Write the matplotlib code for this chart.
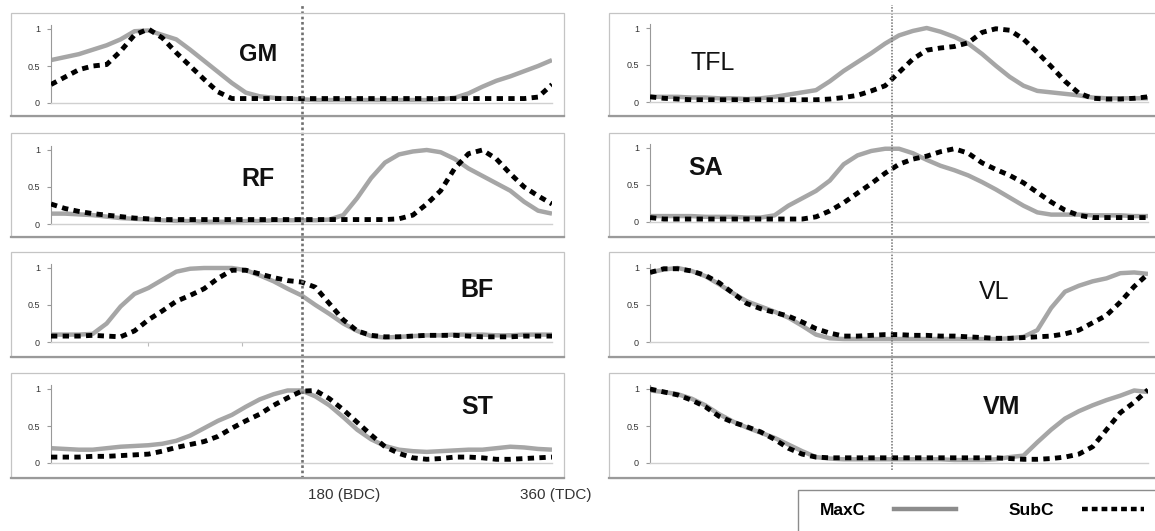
import numpy as np
import matplotlib.pyplot as plt
from matplotlib.patches import Rectangle
from matplotlib.lines import Line2D

plt.rcParams['font.family'] = ['Liberation Sans', 'DejaVu Sans']

W, H = 1155, 531

# crank angle, degrees
angle = np.arange(0, 361, 10)

gm_max = [0.58, 0.62, 0.66, 0.72, 0.78, 0.86, 0.97, 0.98, 0.92, 0.86, 0.72, 0.57, 0.42,
          0.27, 0.14, 0.09, 0.07, 0.06, 0.05, 0.04, 0.04, 0.04, 0.04, 0.04, 0.04, 0.04,
          0.04, 0.04, 0.05, 0.07, 0.13, 0.22, 0.30, 0.36, 0.43, 0.50, 0.58]
gm_sub = [0.25, 0.35, 0.45, 0.50, 0.52, 0.70, 0.92, 1.00, 0.88, 0.68, 0.50, 0.32, 0.15,
          0.06, 0.06, 0.06, 0.06, 0.06, 0.06, 0.06, 0.06, 0.06, 0.06, 0.06, 0.06, 0.06,
          0.06, 0.06, 0.06, 0.06, 0.06, 0.06, 0.06, 0.06, 0.06, 0.08, 0.25]

rf_max = [0.14, 0.14, 0.13, 0.12, 0.10, 0.08, 0.07, 0.06, 0.05, 0.04, 0.04, 0.03, 0.03,
          0.03, 0.04, 0.04, 0.05, 0.05, 0.05, 0.05, 0.06, 0.12, 0.35, 0.62, 0.83, 0.94,
          0.98, 1.00, 0.97, 0.88, 0.75, 0.65, 0.55, 0.45, 0.30, 0.18, 0.14]
rf_sub = [0.27, 0.21, 0.17, 0.14, 0.12, 0.10, 0.08, 0.07, 0.06, 0.06, 0.06, 0.06, 0.06,
          0.06, 0.06, 0.06, 0.06, 0.06, 0.06, 0.06, 0.06, 0.06, 0.06, 0.06, 0.06, 0.07,
          0.12, 0.27, 0.45, 0.75, 0.95, 1.00, 0.88, 0.68, 0.50, 0.38, 0.27]

bf_max = [0.10, 0.10, 0.10, 0.11, 0.25, 0.48, 0.65, 0.73, 0.84, 0.95, 0.99, 1.00, 1.00,
          1.00, 0.97, 0.90, 0.82, 0.72, 0.63, 0.50, 0.38, 0.25, 0.15, 0.08, 0.06, 0.07,
          0.08, 0.09, 0.09, 0.10, 0.10, 0.10, 0.09, 0.09, 0.10, 0.10, 0.10]
bf_sub = [0.08, 0.08, 0.08, 0.09, 0.08, 0.07, 0.15, 0.30, 0.42, 0.55, 0.63, 0.72, 0.86,
          0.97, 0.97, 0.92, 0.87, 0.83, 0.81, 0.74, 0.52, 0.30, 0.15, 0.09, 0.07, 0.07,
          0.08, 0.09, 0.09, 0.09, 0.08, 0.07, 0.07, 0.07, 0.08, 0.08, 0.08]

st_max = [0.20, 0.19, 0.18, 0.18, 0.20, 0.22, 0.23, 0.24, 0.26, 0.30, 0.37, 0.47, 0.57,
          0.65, 0.76, 0.86, 0.93, 0.98, 0.98, 0.90, 0.78, 0.62, 0.45, 0.32, 0.23, 0.18,
          0.16, 0.15, 0.16, 0.17, 0.18, 0.18, 0.20, 0.22, 0.21, 0.19, 0.18]
st_sub = [0.08, 0.08, 0.08, 0.09, 0.09, 0.10, 0.11, 0.12, 0.16, 0.21, 0.25, 0.29, 0.36,
          0.47, 0.57, 0.66, 0.78, 0.88, 0.97, 0.98, 0.87, 0.72, 0.55, 0.38, 0.22, 0.13,
          0.07, 0.05, 0.06, 0.08, 0.08, 0.07, 0.05, 0.05, 0.06, 0.07, 0.08]

tfl_max = [0.07, 0.07, 0.07, 0.06, 0.06, 0.05, 0.05, 0.04, 0.05, 0.07, 0.10, 0.13, 0.16,
           0.28, 0.42, 0.54, 0.66, 0.79, 0.90, 0.96, 1.00, 0.95, 0.88, 0.79, 0.65, 0.49,
           0.34, 0.22, 0.15, 0.13, 0.11, 0.09, 0.06, 0.05, 0.05, 0.05, 0.05]
tfl_sub = [0.07, 0.05, 0.04, 0.03, 0.03, 0.03, 0.03, 0.03, 0.03, 0.03, 0.03, 0.03, 0.03,
           0.04, 0.06, 0.09, 0.15, 0.22, 0.40, 0.58, 0.70, 0.73, 0.75, 0.80, 0.94, 0.99,
           0.97, 0.85, 0.67, 0.48, 0.28, 0.12, 0.05, 0.04, 0.04, 0.05, 0.07]

sa_max = [0.08, 0.08, 0.08, 0.08, 0.07, 0.07, 0.07, 0.06, 0.06, 0.09, 0.22, 0.32, 0.42,
          0.56, 0.78, 0.90, 0.96, 0.99, 0.99, 0.93, 0.84, 0.76, 0.70, 0.63, 0.54, 0.44,
          0.33, 0.22, 0.13, 0.10, 0.10, 0.10, 0.09, 0.09, 0.09, 0.08, 0.08]
sa_sub = [0.06, 0.04, 0.04, 0.04, 0.04, 0.04, 0.04, 0.04, 0.04, 0.04, 0.04, 0.04, 0.07,
          0.15, 0.26, 0.39, 0.52, 0.66, 0.78, 0.85, 0.89, 0.95, 0.99, 0.93, 0.80, 0.71,
          0.63, 0.53, 0.40, 0.27, 0.16, 0.09, 0.06, 0.06, 0.06, 0.06, 0.06]

vl_max = [0.94, 0.98, 1.00, 0.96, 0.89, 0.78, 0.66, 0.55, 0.48, 0.41, 0.33, 0.22, 0.10,
          0.05, 0.04, 0.04, 0.04, 0.04, 0.04, 0.04, 0.04, 0.04, 0.04, 0.04, 0.04, 0.04,
          0.05, 0.07, 0.16, 0.46, 0.68, 0.76, 0.82, 0.86, 0.93, 0.94, 0.92]
vl_sub = [0.94, 0.99, 0.99, 0.96, 0.90, 0.80, 0.66, 0.52, 0.45, 0.40, 0.35, 0.27, 0.18,
          0.12, 0.08, 0.08, 0.09, 0.10, 0.10, 0.09, 0.09, 0.08, 0.08, 0.07, 0.06, 0.05,
          0.05, 0.06, 0.07, 0.08, 0.11, 0.16, 0.26, 0.36, 0.54, 0.75, 0.92]

vm_max = [0.98, 0.96, 0.93, 0.87, 0.78, 0.66, 0.56, 0.48, 0.41, 0.34, 0.25, 0.16, 0.08,
          0.06, 0.05, 0.05, 0.05, 0.05, 0.05, 0.05, 0.05, 0.05, 0.04, 0.04, 0.04, 0.05,
          0.08, 0.10, 0.28, 0.45, 0.60, 0.70, 0.78, 0.85, 0.91, 0.98, 0.96]
vm_sub = [1.00, 0.96, 0.92, 0.85, 0.76, 0.63, 0.55, 0.49, 0.42, 0.32, 0.20, 0.12, 0.08,
          0.07, 0.07, 0.07, 0.07, 0.07, 0.07, 0.07, 0.07, 0.07, 0.07, 0.07, 0.07, 0.07,
          0.06, 0.05, 0.05, 0.06, 0.08, 0.12, 0.22, 0.45, 0.68, 0.82, 0.99]

# name, max, sub, column, row, label x, label y, bold
panels = [
    ("GM", gm_max, gm_sub, 0, 0, 149, 0.65, True),
    ("RF", rf_max, rf_sub, 0, 1, 149, 0.61, True),
    ("BF", bf_max, bf_sub, 0, 2, 306, 0.70, True),
    ("ST", st_max, st_sub, 0, 3, 306, 0.75, True),
    ("TFL", tfl_max, tfl_sub, 1, 0, 45, 0.53, False),
    ("SA", sa_max, sa_sub, 1, 1, 40, 0.73, True),
    ("VL", vl_max, vl_sub, 1, 2, 249, 0.67, False),
    ("VM", vm_max, vm_sub, 1, 3, 254, 0.75, True),
]

gray = "#a6a6a6"
col_px = [(51, 552), (650, 1148)]
zero_px = [(103, 102), (224, 222), (342, 342), (463, 463)]
frame_px = [(13, 116), (133, 237), (252, 357), (373, 478)]
frame_x = [(11, 564), (609, 1175)]
unit = 74.0
ytop = 1.06

fig = plt.figure(figsize=(W / 100, H / 100), dpi=100)

# panel frames
for c in range(2):
    for r in range(4):
        t, b = frame_px[r]
        l, rr = frame_x[c]
        fig.patches.append(Rectangle((l / W, 1 - b / H), (rr - l) / W, (b - t) / H,
                                     transform=fig.transFigure, fill=False,
                                     edgecolor="#c4c4c4", lw=0.9))
        fig.lines.append(Line2D([l / W, rr / W], [1 - b / H, 1 - b / H],
                                transform=fig.transFigure, color="#9a9a9a", lw=1.6))

axes = {}
for name, ymax, ysub, c, r, lx, ly, bold in panels:
    x0, x1 = col_px[c]
    z = zero_px[r][c]
    ax = fig.add_axes([x0 / W, 1 - z / H, (x1 - x0) / W, ytop * unit / H])
    ax.patch.set_visible(False)
    ax.plot(angle, ymax, color=gray, lw=3.2, solid_capstyle="butt", zorder=2)
    ax.plot(angle, ysub, color="black", lw=3.5, dashes=(1.3, 1.1), zorder=3)
    ax.set_xlim(0, 360)
    ax.set_ylim(0, ytop)
    ax.set_yticks([0, 0.5, 1])
    ax.set_yticklabels(["0", "0.5", "1"])
    if name == "BF":
        ax.set_xticks([70, 137])
        ax.set_xticklabels([])
        ax.tick_params(axis="x", length=3, color="#bbbbbb", width=0.8)
    else:
        ax.set_xticks([])
    ax.tick_params(axis="y", length=3, width=0.8, color="#999999",
                   labelsize=6.5, labelcolor="#333333", pad=5)
    for s in ["top", "right"]:
        ax.spines[s].set_visible(False)
    ax.spines["left"].set_color("#999999")
    ax.spines["left"].set_linewidth(0.8)
    ax.spines["bottom"].set_color("#d0d0d0")
    ax.spines["bottom"].set_linewidth(1.0)
    ax.text(lx, ly, name, ha="center", va="center", color="#111111",
            fontsize=18 if name != "GM" else 17,
            fontweight="bold" if bold else "normal")
    axes[name] = ax

# dotted BDC markers drawn over the whole column
for c, pos, y_top, y_bot, lw in [(0, 180, 3, 478, 1.9), (1, 175, 5, 470, 1.1)]:
    x0, x1 = col_px[c]
    ov = fig.add_axes([x0 / W, 1 - y_bot / H, (x1 - x0) / W, (y_bot - y_top) / H])
    ov.set_xlim(0, 360)
    ov.set_ylim(0, 1)
    ov.axis("off")
    ov.axvline(pos, color="#707070", ls=(0, (1, 1)), lw=lw)

st = axes["ST"]
st.text(185, (463 - 495) / unit, "180 (BDC)", ha="left", va="center",
        fontsize=11, color="#333333", clip_on=False)
st.text(363, (463 - 495) / unit, "360 (TDC)", ha="center", va="center",
        fontsize=11, color="#333333", clip_on=False)

# legend box
fig.patches.append(Rectangle((798 / W, -0.1), 0.5, 0.1 + (H - 490) / H,
                             transform=fig.transFigure, fill=False,
                             edgecolor="#8c8c8c", lw=1.0))
handles = [Line2D([], [], color="#8c8c8c", lw=3.2),
           Line2D([], [], color="black", lw=3.2, dashes=(1.3, 0.9))]
fig.legend(handles, ["MaxC", "SubC"], ncol=2, markerfirst=False, frameon=False,
           prop={"weight": "bold", "size": 12.5}, handlelength=3.6,
           handletextpad=1.6, columnspacing=3.0, loc="center left",
           bbox_to_anchor=((820 - 7) / W, 1 - 510 / H), borderaxespad=0)

fig.savefig("out.png", dpi=100)
